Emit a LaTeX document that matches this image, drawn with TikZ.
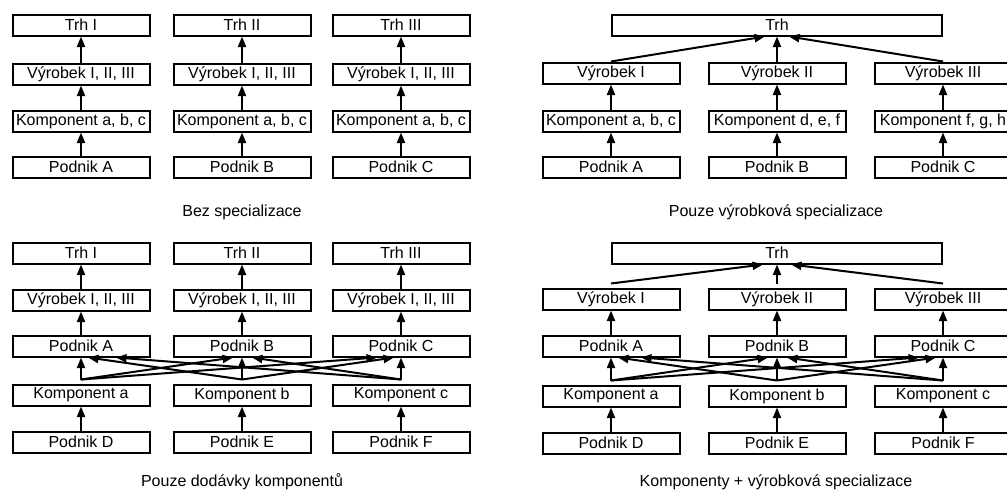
\documentclass[tikz,border=0pt]{standalone}
\usepackage{fontspec}
\setmainfont{Liberation Sans}
\usetikzlibrary{arrows.meta}

\tikzset{
  box/.style={draw,line width=2pt,minimum width=137pt,minimum height=21pt,inner sep=0pt,font=\fontsize{16}{18}\selectfont},
  arr/.style={line width=2pt,-{Triangle[length=10.5pt,width=8pt]}},
  caption/.style={font=\fontsize{16}{18}\selectfont}
}

\begin{document}
\begin{tikzpicture}[x=1pt,y=-1pt]
  \useasboundingbox (0,0) rectangle (1007,493);
  % Bez specializace
  \foreach \x/\p/\t in {81/A/I, 242/B/II, 401/C/III} {
    \node[box](tl-t\p)at(\x,25){Trh \t};
    \node[box](tl-v\p)at(\x,74){Výrobek I, II, III};
    \node[box](tl-k\p)at(\x,121){Komponent a, b, c};
    \node[box](tl-p\p)at(\x,167){Podnik \p};
    \draw[arr](tl-p\p)--(tl-k\p);
    \draw[arr](tl-k\p)--(tl-v\p);
    \draw[arr](tl-v\p)--(tl-t\p);
  }
  \node[caption](tl-cap)at(242,212){Bez specializace};
  % Pouze vyrobkova specializace
  \node[box,minimum width=330pt](tr-t)at(777,25){Trh};
  \foreach \x/\p/\t/\k in {611/A/I/{a, b, c}, 777/B/II/{d, e, f}, 943/C/III/{f, g, h}} {
    \node[box](tr-v\p)at(\x,73){Výrobek \t};
    \node[box](tr-k\p)at(\x,121){Komponent \k};
    \node[box](tr-p\p)at(\x,167){Podnik \p};
    \draw[arr](tr-p\p)--(tr-k\p);
    \draw[arr](tr-k\p)--(tr-v\p);
  }
  \draw[arr](tr-vA.north)--([xshift=-12pt]tr-t.south);
  \draw[arr](tr-vB.north)--(tr-t.south);
  \draw[arr](tr-vC.north)--([xshift=12pt]tr-t.south);
  \node[caption](tr-cap)at(776,212){Pouze výrobková specializace};
  % Pouze dodavky komponentu
  \foreach \x/\p/\t/\q/\c in {81/A/I/D/a, 242/B/II/E/b, 401/C/III/F/c} {
    \node[box](bl-t\p)at(\x,253){Trh \t};
    \node[box](bl-v\p)at(\x,300){Výrobek I, II, III};
    \node[box](bl-p\p)at(\x,346){Podnik \p};
    \node[box](bl-k\p)at(\x,395){Komponent \c};
    \node[box](bl-d\p)at(\x,442){Podnik \q};
    \draw[arr](bl-d\p)--(bl-k\p);
    \draw[arr](bl-p\p)--(bl-v\p);
    \draw[arr](bl-v\p)--(bl-t\p);
    \coordinate(bl-s\p)at([yshift=4pt]bl-k\p.north);
    \draw[arr](bl-s\p)--(bl-p\p.south);
  }
  \foreach \s/\e/\o in {A/B/-9, A/C/-24, B/A/7, B/C/-7, C/A/35, C/B/10}
    \draw[arr](bl-s\s)--([xshift=\o pt]bl-p\e.south);
  \node[caption](bl-cap)at(242,482){Pouze dodávky komponentů};
  % Komponenty + vyrobkova specializace
  \node[box,minimum width=330pt](br-t)at(777,253){Trh};
  \foreach \x/\p/\t/\q/\c in {611/A/I/D/a, 777/B/II/E/b, 943/C/III/F/c} {
    \node[box](br-v\p)at(\x,299){Výrobek \t};
    \node[box](br-p\p)at(\x,346){Podnik \p};
    \node[box](br-k\p)at(\x,396){Komponent \c};
    \node[box](br-d\p)at(\x,443){Podnik \q};
    \draw[arr](br-d\p)--(br-k\p);
    \draw[arr](br-p\p)--(br-v\p);
    \coordinate(br-s\p)at([yshift=4pt]br-k\p.north);
    \draw[arr](br-s\p)--(br-p\p.south);
    \coordinate(br-u\p)at([yshift=4pt]br-v\p.north);
  }
  \foreach \s/\e/\o in {A/B/-9, A/C/-24, B/A/7, B/C/-7, C/A/30, C/B/10}
    \draw[arr](br-s\s)--([xshift=\o pt]br-p\e.south);
  \draw[arr](br-uA)--([xshift=-14pt]br-t.south);
  \draw[arr](br-uB)--(br-t.south);
  \draw[arr](br-uC)--([xshift=14pt]br-t.south);
  \node[caption](br-cap)at(776,482){Komponenty + výrobková specializace};
\end{tikzpicture}
\end{document}
